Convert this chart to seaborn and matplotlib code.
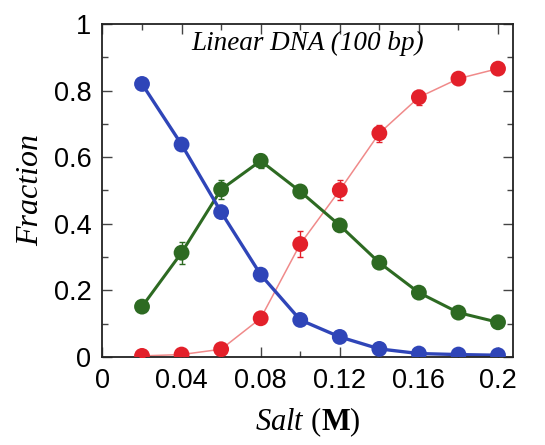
"""
Fraction vs salt concentration, linear DNA (100 bp)
"""

import pandas as pd
import matplotlib.pyplot as plt
import seaborn as sns
from matplotlib.ticker import MultipleLocator

salt = [0.02, 0.04, 0.06, 0.08, 0.10, 0.12, 0.14, 0.16, 0.18, 0.20]
blue_frac = [0.82, 0.638, 0.435, 0.247, 0.111, 0.060, 0.024, 0.010, 0.007, 0.005]
green_frac = [0.151, 0.313, 0.503, 0.589, 0.497, 0.395, 0.283, 0.193, 0.133, 0.104]
red_frac = [0.003, 0.007, 0.023, 0.116, 0.339, 0.501, 0.672, 0.780, 0.836, 0.866]
green_err = [0.012, 0.033, 0.028, 0.022, 0.020, 0.012, 0.010, 0.010, 0.008, 0.008]
red_err = [0.004, 0.005, 0.008, 0.012, 0.040, 0.030, 0.025, 0.022, 0.012, 0.010]

df = pd.DataFrame({"salt": salt, "blue": blue_frac, "green": green_frac, "red": red_frac})

sns.set_style("ticks")
plt.rcParams["font.family"] = ["Liberation Sans", "DejaVu Sans"]
plt.rcParams["text.color"] = "black"
plt.rcParams["axes.labelcolor"] = "black"
plt.rcParams["mathtext.fontset"] = "custom"
plt.rcParams["mathtext.it"] = "Liberation Serif:italic"
plt.rcParams["mathtext.bf"] = "Liberation Serif:bold"
plt.rcParams["mathtext.rm"] = "Liberation Serif"

fig = plt.figure(figsize=(5.45, 4.45), dpi=100)
ax = fig.add_axes([0.188, 0.198, 0.753, 0.748])

blue_c = "#2f45b8"
green_c = "#2d6a22"
red_c = "#e3202a"

# red (thin pink line)
sns.lineplot(data=df, x="salt", y="red", ax=ax, color="#f08a8a", linewidth=1.1, zorder=2)
ax.errorbar(salt, red_frac, yerr=red_err, fmt="none", ecolor=red_c, elinewidth=1, capsize=2, zorder=3)
sns.scatterplot(data=df, x="salt", y="red", ax=ax, color=red_c, s=130, edgecolor="none", zorder=4)

# green
sns.lineplot(data=df, x="salt", y="green", ax=ax, color=green_c, linewidth=2.2, zorder=2)
ax.errorbar(salt, green_frac, yerr=green_err, fmt="none", ecolor=green_c, elinewidth=1, capsize=2, zorder=3)
sns.scatterplot(data=df, x="salt", y="green", ax=ax, color=green_c, s=130, edgecolor="none", zorder=4)

# blue
sns.lineplot(data=df, x="salt", y="blue", ax=ax, color=blue_c, linewidth=2.4, zorder=2)
sns.scatterplot(data=df, x="salt", y="blue", ax=ax, color=blue_c, s=130, edgecolor="none", zorder=4)

ax.set_xlim(0, 0.2075)
ax.set_ylim(0, 1)
ax.xaxis.set_major_locator(MultipleLocator(0.04))
ax.xaxis.set_minor_locator(MultipleLocator(0.02))
ax.yaxis.set_major_locator(MultipleLocator(0.2))
ax.yaxis.set_minor_locator(MultipleLocator(0.1))
ax.set_xticks([0, 0.04, 0.08, 0.12, 0.16, 0.2])
ax.set_xticklabels(["0", "0.04", "0.08", "0.12", "0.16", "0.2"])
ax.set_yticks([0, 0.2, 0.4, 0.6, 0.8, 1.0])
ax.set_yticklabels(["0", "0.2", "0.4", "0.6", "0.8", "1"])
ax.tick_params(which="both", direction="in", top=True, right=True, labelsize=19.5,
               color="#444444", labelcolor="black")
ax.tick_params(which="major", length=7, width=1, pad=8)
ax.tick_params(which="minor", length=4, width=1)
for sp in ax.spines.values():
    sp.set_linewidth(1.3)
    sp.set_color("#222222")

ax.set_xlabel(r"$\it{Salt}$ $\it{(}\bf{M}\it{)}$", fontsize=22, labelpad=8)
ax.set_ylabel("Fraction", fontsize=23, family="Liberation Serif", style="italic", labelpad=6)
ax.text(0.5, 0.922, "Linear DNA (100 bp)", transform=ax.transAxes, ha="center",
        va="baseline", fontsize=19.5, family="Liberation Serif", style="italic")

plt.savefig("out.png", dpi=100)
plt.close()
